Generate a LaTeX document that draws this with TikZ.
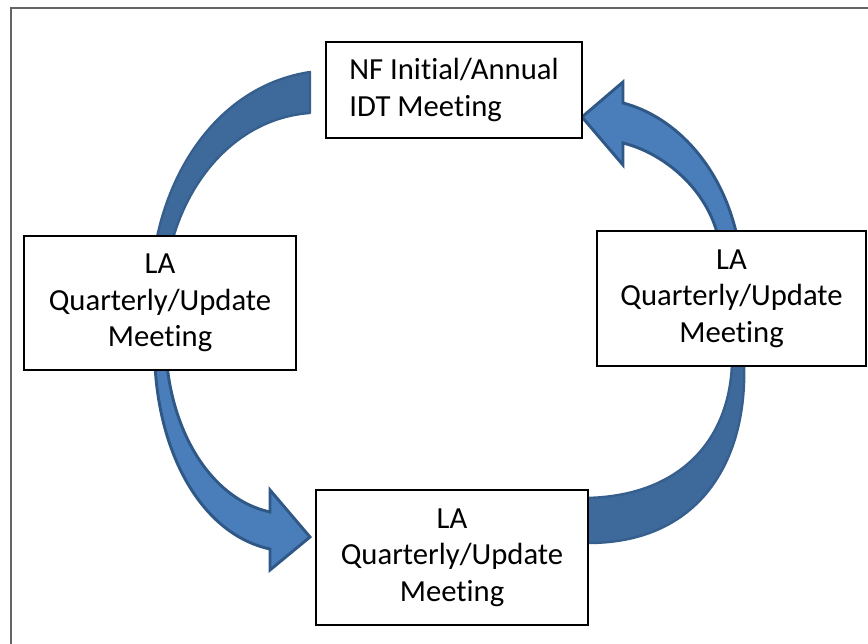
\documentclass[tikz,border=0pt]{standalone}
\usepackage{fontspec}
\setmainfont{Carlito}[Ligatures={NoCommon,NoContextual}]
\definecolor{darkband}{RGB}{61,106,155}
\definecolor{darkline}{RGB}{54,95,142}
\definecolor{lightband}{RGB}{74,126,187}
\definecolor{lightline}{RGB}{48,88,135}
\definecolor{framegray}{RGB}{100,100,100}
\newcommand{\mtgword}{Meet\kern0pt ing}
\begin{document}
\begin{tikzpicture}[x=0.75pt,y=-0.75pt,
  box/.style={draw=black,line width=1.5pt,fill=white,inner sep=0pt,outer sep=0pt,
    align=center,font=\fontsize{23}{27.5}\selectfont},
  darkarc/.style={line width=1.8pt,draw=darkline,fill=darkband,line join=round},
  lightarc/.style={line width=2.2pt,draw=lightline,fill=lightband,line join=miter}]
\useasboundingbox (0,0) rectangle (868,643);
\clip (0,0) rectangle (868,643);
\draw[framegray,line width=1.5pt] (11,660) -- (11,8) -- (880,8);

% top-left band (no head)
\draw[darkarc] (156,242) .. controls (172,160) and (225,85) .. (310,72)
  -- (310,113) .. controls (240,118) and (190,175) .. (172,242) -- cycle;
% top-right arrow pointing to the top box
\draw[lightarc] (582,117) -- (623,82) -- (623,103)
  .. controls (670,115) and (720,160) .. (737,236) -- (718,236)
  .. controls (705,185) and (660,152) .. (623,143) -- (623,165) -- cycle;
% bottom-left arrow pointing to the bottom box
\draw[lightarc] (310,537) -- (270,570) -- (270,549)
  .. controls (205,535) and (160,460) .. (155,365) -- (167,365)
  .. controls (175,440) and (215,500) .. (270,512) -- (270,490) -- cycle;
% bottom-right band (no head)
\draw[darkarc] (744,362) .. controls (748,460) and (700,545) .. (584,543)
  -- (584,498) .. controls (680,497) and (730,440) .. (732,362) -- cycle;

\node[box,align=left,minimum width=256*0.75pt,minimum height=96*0.75pt] (nf) at (454,90)
  {NF Initial/Annual\\IDT \mtgword};
\node[box,minimum width=272*0.75pt,minimum height=134*0.75pt] (laleft) at (160,303)
  {LA\\Quarterly/Update\\\mtgword};
\node[box,minimum width=269*0.75pt,minimum height=135*0.75pt] (laright) at (731.5,298.5)
  {LA\\Quarterly/Update\\\mtgword};
\node[box,minimum width=272*0.75pt,minimum height=135*0.75pt] (labottom) at (452,557.5)
  {LA\\Quarterly/Update\\\mtgword};
\end{tikzpicture}
\end{document}
